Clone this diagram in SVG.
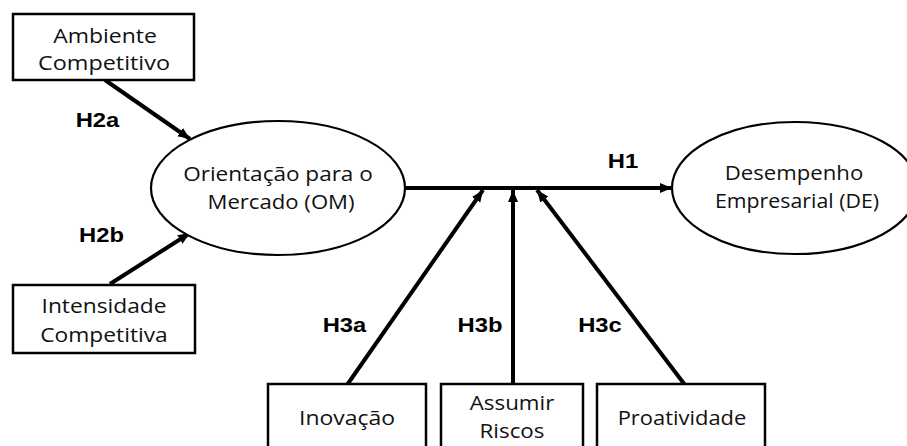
<svg xmlns="http://www.w3.org/2000/svg" width="907" height="446" viewBox="0 0 907 446">
<style>
.box{fill:#fff;stroke:#000;stroke-width:2.5}
.ell{fill:#fff;stroke:#000;stroke-width:2.2}
.t{font-family:"Open Sans","Noto Sans",sans-serif;font-size:20.5px;fill:#111;text-anchor:middle}
.lb{font-family:"Liberation Sans",Arial,sans-serif;font-size:19.5px;font-weight:bold;fill:#000;text-anchor:middle}
.c{stroke:#000;stroke-width:4;fill:none;marker-end:url(#ah)}
</style>
<defs>
<marker id="ah" markerUnits="userSpaceOnUse" markerWidth="14" markerHeight="12" refX="12" refY="6" orient="auto">
<path d="M0,1 L12,6 L0,11 Z" fill="#000"/>
</marker>
</defs>
<rect width="907" height="446" fill="#fff"/>
<g id="connectors">
<line class="c" x1="105" y1="80" x2="190" y2="139"/>
<line class="c" x1="110" y1="284" x2="190" y2="233"/>
<line class="c" x1="404" y1="188" x2="672" y2="188"/>
<line class="c" x1="347" y1="385" x2="483" y2="190"/>
<line class="c" x1="513" y1="385" x2="513" y2="190"/>
<line class="c" x1="685" y1="385" x2="537" y2="190"/>
</g>
<g id="ambiente">
<rect class="box" x="13" y="14" width="181" height="66"/>
<text class="t" transform="translate(105 43) scale(1.12 1)">Ambiente</text>
<text class="t" transform="translate(104 70) scale(1.14 1)">Competitivo</text>
</g>
<g id="intensidade">
<rect class="box" x="13" y="285" width="182" height="68"/>
<text class="t" transform="translate(104 313) scale(1.11 1)">Intensidade</text>
<text class="t" transform="translate(104 342) scale(1.11 1)">Competitiva</text>
</g>
<g id="om">
<ellipse class="ell" cx="278" cy="188" rx="127" ry="67"/>
<text class="t" transform="translate(278 181) scale(1.1 1)">Orientação para o</text>
<text class="t" transform="translate(281 209) scale(1.08 1)">Mercado (OM)</text>
</g>
<g id="de">
<ellipse class="ell" cx="795" cy="188" rx="123" ry="66"/>
<text class="t" transform="translate(794 180) scale(1.08 1)">Desempenho</text>
<text class="t" transform="translate(797 208) scale(1.04 1)">Empresarial (DE)</text>
</g>
<g id="inovacao">
<rect class="box" x="268" y="384" width="158" height="80"/>
<text class="t" transform="translate(347 425) scale(1.12 1)">Inovação</text>
</g>
<g id="assumir">
<rect class="box" x="441" y="384" width="142" height="80"/>
<text class="t" transform="translate(512 410) scale(1.09 1)">Assumir</text>
<text class="t" transform="translate(512 438) scale(1.09 1)">Riscos</text>
</g>
<g id="proatividade">
<rect class="box" x="597" y="384" width="168" height="80"/>
<text class="t" transform="translate(682 425) scale(1.07 1)">Proatividade</text>
</g>
<g id="labels">
<text class="lb" transform="translate(97.5 127) scale(1.22 1)">H2a</text>
<text class="lb" transform="translate(101.5 242) scale(1.22 1)">H2b</text>
<text class="lb" transform="translate(623 168) scale(1.22 1)">H1</text>
<text class="lb" transform="translate(344.5 332) scale(1.22 1)">H3a</text>
<text class="lb" transform="translate(480 332) scale(1.22 1)">H3b</text>
<text class="lb" transform="translate(600 332) scale(1.22 1)">H3c</text>
</g>
</svg>
